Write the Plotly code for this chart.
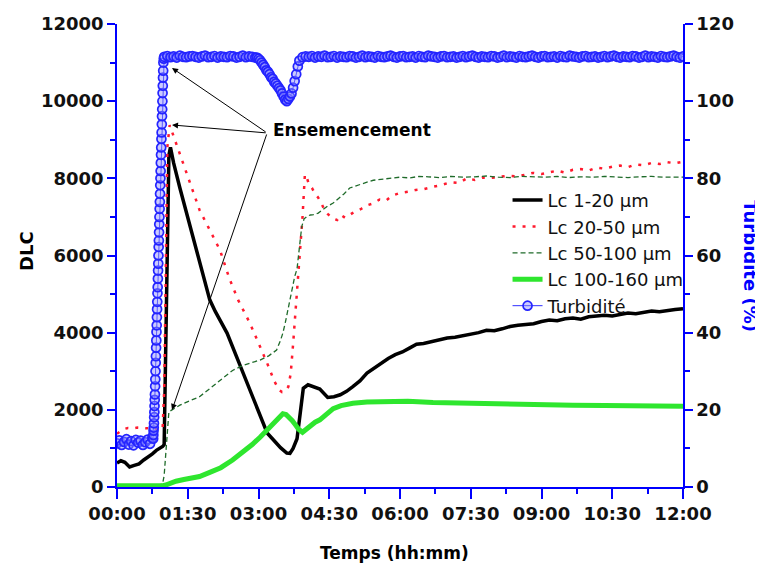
import plotly.graph_objects as go

# ---------------- data (time in minutes since 00:00) ----------------
t_lc1 = [0, 5, 10, 16, 22, 28, 34, 40, 45, 50, 55, 58, 60, 62, 64, 66, 68, 72, 80, 93, 105, 112, 118, 125,
         140, 155, 169, 180, 191, 200, 208, 216, 220, 224, 229, 233, 237, 243, 250, 258, 268, 276, 284, 292,
         300, 309, 318, 327, 336, 345, 354, 363, 372, 381, 390, 400, 410, 420, 430, 440, 450, 460, 470, 480,
         490, 500, 510, 520, 530, 540, 550, 560, 570, 580, 590, 600, 610, 620, 630, 640, 650, 660, 670, 680,
         690, 700, 710, 720]
lc1 = [620, 680, 640, 520, 560, 600, 700, 780, 860, 950, 1000, 1050, 1100, 3500, 6500, 8600, 8800, 8400, 7750,
       6740, 5800, 5250, 4850, 4550, 3990, 3230, 2510, 1950, 1400, 1200, 1020, 880, 870, 1000, 1250, 1900, 2560,
       2650, 2600, 2540, 2320, 2340, 2390, 2480, 2600, 2750, 2950, 3080, 3220, 3330, 3430, 3500, 3600, 3700,
       3720, 3770, 3800, 3860, 3880, 3920, 3950, 4000, 4060, 4050, 4100, 4160, 4190, 4210, 4230, 4290, 4330,
       4310, 4360, 4380, 4350, 4410, 4420, 4450, 4430, 4480, 4510, 4490, 4530, 4560, 4540, 4580, 4600, 4620]

t_lc2 = [0, 4, 8, 14, 20, 26, 32, 38, 44, 50, 55, 58, 60, 62, 64, 67, 72, 80, 90, 105, 118, 131, 143, 154, 169,
         180, 191, 200, 206, 210, 214, 218, 221, 224, 227, 230, 233, 236, 239, 241, 244, 248, 252, 256, 260, 264,
         268, 272, 276, 280, 285, 290, 296, 303, 310, 318, 326, 334, 342, 350, 360, 370, 380, 390, 402, 412, 424,
         435, 445, 455, 465, 475, 487, 498, 510, 520, 529, 540, 550, 560, 570, 580, 590, 600, 610, 620, 630, 640,
         650, 660, 670, 680, 690, 700, 710, 720]
lc2 = [1380, 1450, 1500, 1530, 1520, 1540, 1530, 1520, 1540, 1500, 1480, 1500, 2500, 5500, 8800, 9380, 9100,
       8600, 8050, 7180, 6650, 6140, 5400, 4850, 4250, 3750, 3210, 2750, 2520, 2460, 2480, 2600, 2950, 3700,
       4500, 5400, 6200, 7000, 8100, 8050, 7850, 7750, 7600, 7500, 7350, 7180, 7080, 7000, 6950, 6920, 7050,
       6980, 7050, 7150, 7200, 7300, 7350, 7450, 7420, 7550, 7620, 7650, 7700, 7720, 7780, 7820, 7900, 7880,
       8000, 7960, 8020, 8010, 8040, 8070, 8050, 8100, 8140, 8110, 8160, 8200, 8150, 8220, 8240, 8200, 8280,
       8250, 8300, 8330, 8290, 8360, 8340, 8400, 8370, 8420, 8390, 8430]

t_lc3 = [0, 8, 16, 24, 32, 40, 48, 55, 58, 60, 62, 64, 66, 70, 80, 92, 105, 118, 132, 147, 160, 172, 182, 193,
         203, 208, 211, 214, 217, 220, 223, 226, 229, 232, 235, 238, 242, 246, 250, 256, 262, 268, 275, 282, 289,
         296, 303, 310, 318, 326, 334, 342, 350, 360, 372, 384, 396, 410, 425, 440, 455, 470, 485, 500, 515, 530,
         545, 560, 575, 590, 605, 620, 635, 650, 665, 680, 695, 710, 720]
lc3 = [60, 50, 60, 55, 50, 60, 55, 60, 80, 300, 900, 1500, 1950, 2000, 2120, 2230, 2340, 2550, 2780, 3020, 3150,
       3230, 3290, 3400, 3550, 3800, 3990, 4250, 4550, 4850, 5150, 5450, 5650, 6300, 6750, 6950, 7020, 7050,
       7060, 7100, 7200, 7280, 7360, 7480, 7600, 7750, 7800, 7860, 7900, 7950, 7970, 7990, 8020, 8030, 8010,
       8050, 8040, 8020, 8050, 8030, 8040, 8060, 8030, 8020, 8050, 8040, 8030, 8050, 8020, 8040, 8030, 8050,
       8040, 8020, 8040, 8050, 8030, 8040, 8030]

t_lc4 = [0, 10, 20, 30, 40, 50, 58, 62, 67, 75, 85, 95, 105, 118, 132, 147, 160, 172, 182, 192, 200, 206, 211,
         215, 219, 223, 227, 231, 236, 241, 246, 252, 258, 266, 275, 285, 300, 318, 340, 370, 402, 440, 480, 520,
         547, 580, 620, 660, 700, 720]
lc4 = [30, 28, 32, 30, 35, 30, 35, 50, 100, 150, 195, 230, 270, 380, 500, 700, 900, 1100, 1290, 1500, 1680,
       1800, 1900, 1880, 1820, 1720, 1610, 1500, 1420, 1500, 1600, 1680, 1740, 1880, 2030, 2110, 2170, 2200,
       2220, 2220, 2190, 2170, 2170, 2150, 2130, 2120, 2110, 2100, 2100, 2090]

t_turb = [0, 3, 6, 9, 12, 15, 18, 21, 24, 27, 30, 33, 36, 39, 42, 45,
          46.0, 46.25, 46.5, 46.75, 47.0, 47.25, 47.5, 47.75, 48.0, 48.25, 48.5, 48.75, 49.0, 49.25, 49.5, 49.75,
          50.0, 50.25, 50.5, 50.75, 51.0, 51.25, 51.5, 51.75, 52.0, 52.25, 52.5, 52.75, 53.0, 53.25, 53.5, 53.75,
          54.0, 54.25, 54.5, 54.75, 55.0, 55.25, 55.5, 55.75, 56.0, 56.25, 56.5, 56.75, 57.0, 57.25, 57.5, 57.75,
          58.0, 58.25, 58.5, 58.75, 59.0, 59.5,
          60, 64, 68, 72, 76, 80, 84, 88, 92, 96, 100, 104, 108, 112, 116, 120, 124, 128, 132, 136, 140, 144,
          148, 152, 156, 160, 164, 168, 172, 176,
          178, 180, 182, 184, 186, 188, 190, 192, 194, 196, 198, 200, 202, 204, 206, 208, 210, 212, 214, 216,
          218, 220, 222, 224, 226, 228, 230, 232,
          236, 240, 244, 248, 252, 256, 260, 264, 268, 272, 276, 280, 284, 288, 292, 296, 300, 304, 308, 312,
          316, 320, 324, 328, 332, 336, 340, 344, 348, 352, 356, 360, 364, 368, 372, 376, 380, 384, 388, 392,
          396, 400, 404, 408, 412, 416, 420, 424, 428, 432, 436, 440, 444, 448, 452, 456, 460, 464, 468, 472,
          476, 480, 484, 488, 492, 496, 500, 504, 508, 512, 516, 520, 524, 528, 532, 536, 540, 544, 548, 552,
          556, 560, 564, 568, 572, 576, 580, 584, 588, 592, 596, 600, 604, 608, 612, 616, 620, 624, 628, 632,
          636, 640, 644, 648, 652, 656, 660, 664, 668, 672, 676, 680, 684, 688, 692, 696, 700, 704, 708, 712,
          716, 720]
turb = [11.3, 12.1, 10.9, 11.7, 12.4, 11.0, 11.9, 10.8, 12.2, 11.5, 12.0, 10.9, 11.6, 12.3, 11.2, 12.8,
        12.5, 13.5, 14.6, 15.4, 16.5, 18.1, 19.4, 21.0, 22.6, 24.0, 26.1, 27.9, 30.0, 32.2, 33.9, 36.1,
        38.0, 40.2, 41.9, 44.0, 46.1, 48.0, 50.2, 51.8, 54.0, 56.1, 57.9, 60.0, 62.2, 63.9, 66.0, 68.1,
        70.0, 72.1, 73.9, 76.0, 78.2, 80.0, 81.9, 84.0, 86.1, 88.0, 90.2, 91.9, 94.0, 96.1, 97.9, 100.0,
        102.1, 104.0, 106.1, 107.9, 110.0, 111.0,
        111.5, 111.7, 111.4, 111.6, 111.3, 111.8, 111.5, 111.4, 111.6, 111.7, 111.5, 111.3, 111.6, 111.8, 111.4,
        111.5, 111.7, 111.3, 111.6, 111.5, 111.4, 111.7, 111.6, 111.3, 111.5, 111.8, 111.4, 111.6, 111.5, 111.3,
        111.3, 111.0, 110.6, 110.0, 109.4, 108.8, 108.0, 107.6, 107.0, 106.2, 105.8, 105.0, 104.6, 104.0, 103.4,
        102.8, 102.0, 101.2, 100.4, 100.0, 100.6, 101.2, 102.0, 103.5, 105.2, 107.0, 109.0, 110.5,
        111.4, 111.6, 111.5, 111.7, 111.3, 111.6, 111.5, 111.8, 111.4, 111.5, 111.7, 111.3, 111.6, 111.5, 111.4,
        111.7, 111.6, 111.3, 111.5, 111.8, 111.4, 111.6, 111.5, 111.3, 111.7, 111.5, 111.4, 111.6, 111.8, 111.5,
        111.3, 111.6, 111.7, 111.4, 111.5, 111.6, 111.3, 111.7, 111.5, 111.4, 111.8, 111.6, 111.5, 111.3, 111.6,
        111.7, 111.4, 111.5, 111.6, 111.3, 111.5, 111.7, 111.4, 111.6, 111.8, 111.5, 111.3, 111.6, 111.5, 111.4,
        111.7, 111.6, 111.3, 111.5, 111.8, 111.4, 111.6, 111.5, 111.3, 111.7, 111.5, 111.4, 111.6, 111.8, 111.5,
        111.3, 111.6, 111.7, 111.4, 111.5, 111.6, 111.3, 111.7, 111.5, 111.4, 111.8, 111.6, 111.5, 111.3, 111.6,
        111.7, 111.4, 111.5, 111.6, 111.3, 111.5, 111.7, 111.4, 111.6, 111.8, 111.5, 111.3, 111.6, 111.5, 111.4,
        111.7, 111.6, 111.3, 111.5, 111.8, 111.4, 111.6, 111.5, 111.3, 111.7, 111.5, 111.4, 111.6, 111.8, 111.5,
        111.3, 111.6, 111.7, 111.4, 111.5, 111.6, 111.3, 111.7, 111.5, 111.4, 111.8, 111.6, 111.5, 111.3, 111.6,
        111.7, 111.4]

x_tickvals = [0, 90, 180, 270, 360, 450, 540, 630, 720]
x_ticktext = ["00:00", "01:30", "03:00", "04:30", "06:00", "07:30", "09:00", "10:30", "12:00"]

names = ["Lc 1-20 µm", "Lc 20-50 µm", "Lc 50-100 µm", "Lc 100-160 µm", "Turbidité"]

# arrow tips (minutes, DLC) and common tail
arrow_tips = [(70, 10860), (70, 9383), (70, 1996)]
arrow_tail = (191, 9176)

FONT = "DejaVu Sans, Arial, sans-serif"
BLUE = "#0000ff"

fig = go.Figure()
fig.add_trace(go.Scatter(x=t_lc1, y=lc1, name=names[0], mode="lines",
                         line=dict(color="#000000", width=3.5)))
fig.add_trace(go.Scatter(x=t_lc2, y=lc2, name=names[1], mode="lines",
                         line=dict(color="#ff1a2e", width=2.5, dash="3px,7px")))
fig.add_trace(go.Scatter(x=t_lc3, y=lc3, name=names[2], mode="lines",
                         line=dict(color="#1f6b2a", width=1.3, dash="5px,3px")))
fig.add_trace(go.Scatter(x=t_lc4, y=lc4, name=names[3], mode="lines",
                         line=dict(color="#2ee62e", width=5)))
fig.add_trace(go.Scatter(x=t_turb, y=turb, name=names[4], mode="lines+markers", yaxis="y2",
                         line=dict(color="#3030ff", width=1),
                         marker=dict(symbol="circle", size=9, color="rgba(140,140,255,0.45)",
                                     line=dict(color="#2424ff", width=1.7))))

tickfont = dict(family=FONT, size=18, color="#111111", weight="bold")

annotations = []
for (tx, ty) in arrow_tips:
    annotations.append(dict(x=tx, y=ty, xref="x", yref="y", ax=arrow_tail[0], ay=arrow_tail[1],
                            axref="x", ayref="y", text="", showarrow=True, arrowhead=2,
                            arrowsize=1.2, arrowwidth=1, arrowcolor="#000000", standoff=0))
annotations.append(dict(x=299, y=9253, xref="x", yref="y", text="Ensemencement", showarrow=False,
                        xanchor="center", yanchor="middle",
                        font=dict(family=FONT, size=17, color="#000000", weight="bold")))
annotations.append(dict(x=-0.159, y=0.51, xref="paper", yref="paper", text="DLC", showarrow=False,
                        xanchor="center", yanchor="middle", textangle=-90,
                        font=dict(family=FONT, size=18, color="#000000", weight="bold")))
annotations.append(dict(x=1.119, y=0.476, xref="paper", yref="paper", text="Turbidité (%)",
                        showarrow=False, textangle=90, xanchor="center", yanchor="middle",
                        font=dict(family=FONT, size=18, color=BLUE, weight="bold")))
annotations.append(dict(x=0.491, y=-0.142, xref="paper", yref="paper", text="Temps (hh:mm)",
                        showarrow=False, xanchor="center", yanchor="middle",
                        font=dict(family=FONT, size=17, color="#000000", weight="bold")))

fig.update_layout(
    width=755, height=557,
    margin=dict(l=109, r=80, t=16, b=78, autoexpand=False),
    paper_bgcolor="white", plot_bgcolor="white",
    font=dict(family=FONT),
    showlegend=True,
    legend=dict(x=0.69, y=0.659, xanchor="left", yanchor="top", bgcolor="rgba(0,0,0,0)",
                font=dict(family=FONT, size=18, color="#111111"), itemwidth=30,
                tracegroupgap=0),
    xaxis=dict(range=[0, 720], tickmode="array", tickvals=x_tickvals, ticktext=x_ticktext,
               automargin=False,
               showline=True, linecolor=BLUE, linewidth=1.5, ticks="outside", ticklen=10,
               tickwidth=1.5, tickcolor=BLUE, showgrid=False, zeroline=False, tickfont=tickfont,
               minor=dict(tickmode="linear", tick0=0, dtick=45, ticks="outside", ticklen=5,
                          tickwidth=1.5, tickcolor=BLUE, showgrid=False)),
    xaxis2=dict(range=[0, 720], overlaying="x", side="top", anchor="y", showline=True, linecolor=BLUE,
                automargin=False,
                linewidth=1.5, ticks="inside", ticklen=8, tickwidth=1.5, tickcolor=BLUE,
                tickmode="linear", tick0=0, dtick=45, showticklabels=False, showgrid=False,
                zeroline=False),
    yaxis=dict(range=[0, 12000], tickmode="linear", tick0=0, dtick=2000, tickformat="d",
               automargin=False,
               showline=True, linecolor=BLUE, linewidth=1.5, ticks="outside", ticklen=8,
               tickwidth=1.5, tickcolor=BLUE, showgrid=False, zeroline=False, tickfont=tickfont,
               minor=dict(tickmode="linear", tick0=0, dtick=1000, ticks="outside", ticklen=5,
                          tickwidth=1.5, tickcolor=BLUE, showgrid=False)),
    yaxis2=dict(range=[0, 120], overlaying="y", side="right", tickmode="linear", tick0=0, dtick=20,
                automargin=False,
                showline=True, linecolor=BLUE, linewidth=1.5, ticks="outside", ticklen=8,
                tickwidth=1.5, tickcolor=BLUE, showgrid=False, zeroline=False, tickfont=tickfont,
                minor=dict(tickmode="linear", tick0=0, dtick=10, ticks="outside", ticklen=5,
                           tickwidth=1.5, tickcolor=BLUE, showgrid=False)),
    annotations=annotations,
)

fig.write_html("out.html")
